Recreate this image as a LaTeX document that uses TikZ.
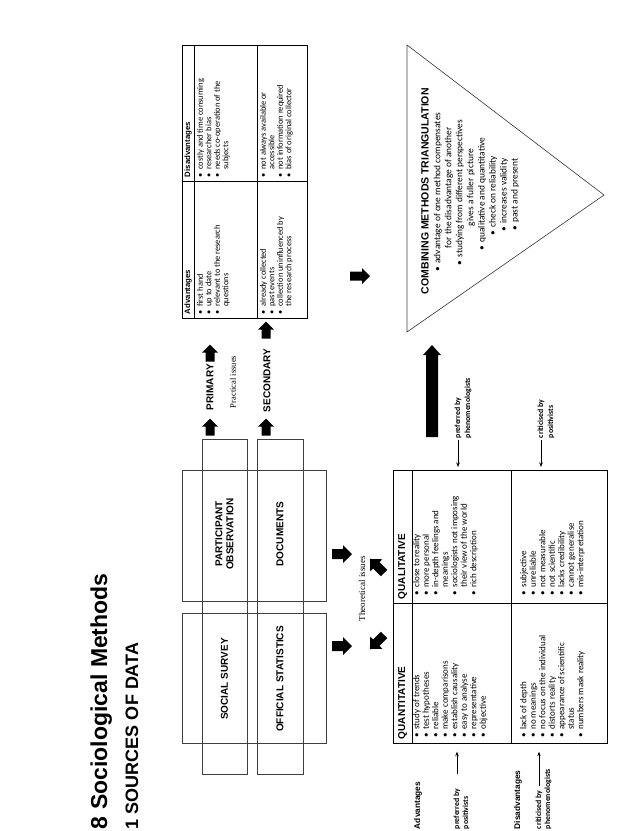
\documentclass[tikz,border=0pt]{standalone}
\usepackage{fontspec}
\setmainfont{Liberation Serif}
\setsansfont{Liberation Sans}
\newfontfamily\listfont{Carlito}
\usetikzlibrary{arrows.meta}
\newcommand\bu{\makebox[7.5pt][l]{\textbullet}}
\newcommand\ind{\hspace*{7.5pt}}
% block arrow: x y angle length headwidth shaftwidth headlength
\newcommand\barrow[7]{\fill[black,shift={(#1,#2)},rotate=#3]
  (-#4/2,-#6/2) -- (#4/2-#7,-#6/2) -- (#4/2-#7,-#5/2) -- (#4/2,0) --
  (#4/2-#7,#5/2) -- (#4/2-#7,#6/2) -- (-#4/2,#6/2) -- cycle;}
\tikzset{
  rot/.style={rotate=90, inner sep=0pt, outer sep=0pt},
  boxln/.style={draw=black!75, line width=0.65pt},
  tabln/.style={draw=black, line width=0.7pt},
  frame/.style={rectangle, inner sep=0pt, anchor=north west},
  methtxt/.style={rot, align=center, font=\sffamily\bfseries\fontsize{10}{11}\selectfont},
  pstxt/.style={rot, anchor=west, font=\sffamily\bfseries\fontsize{10}{12}\selectfont},
  serifnote/.style={rot, anchor=west, font=\rmfamily\fontsize{8.5}{10}\selectfont},
  hdrsmall/.style={rot, anchor=west, font=\sffamily\bfseries\fontsize{7.8}{9}\selectfont},
  hdrbig/.style={rot, anchor=west, font=\sffamily\bfseries\fontsize{10}{12}\selectfont},
  celltop/.style={rot, anchor=north west, align=left, font=\listfont\fontsize{8.4}{8.5}\selectfont},
  cellq/.style={rot, anchor=north west, align=left, font=\listfont\fontsize{9}{9.5}\selectfont},
  triline/.style={rot, anchor=west, font=\listfont\fontsize{9.4}{10}\selectfont},
  tritit/.style={rot, anchor=west, font=\sffamily\bfseries\fontsize{10.5}{12}\selectfont},
  lbl/.style={rot, anchor=west, font=\listfont\bfseries\fontsize{7.8}{9}\selectfont},
  lblsans/.style={rot, anchor=west, font=\sffamily\bfseries\fontsize{8.3}{10}\selectfont},
  ptr/.style={line width=0.6pt, -{Stealth[length=4.5pt,width=3.5pt]}},
}
\begin{document}
\begin{tikzpicture}[x=1pt,y=-1pt]
\useasboundingbox (0,0) rectangle (638,831);

% titles
\node[rot, anchor=base west, font=\sffamily\bfseries\fontsize{23}{28}\selectfont] (title) at (107,829) {8 Sociological Methods};
\node[rot, anchor=base west, font=\sffamily\bfseries\fontsize{18}{22}\selectfont] (sub) at (138,829) {1 SOURCES OF DATA};

% method strips and boxes
\node[frame, boxln, minimum width=45pt, minimum height=335pt] (stripA) at (202,439) {};
\node[frame, boxln, minimum width=46pt, minimum height=335pt] (stripB) at (257,439) {};
\node[frame, boxln, minimum width=144pt, minimum height=131pt] (boxQ) at (182,470) {};
\node[frame, boxln, minimum width=144pt, minimum height=130pt] (boxP) at (182,613) {};

\node[methtxt] (ss) at (224.5,679) {SOCIAL SURVEY};
\node[methtxt] (os) at (280,679) {OFFICIAL STATISTICS};
\node[methtxt] (po) at (224.5,534) {PARTICIPANT\\OBSERVATION};
\node[methtxt] (doc) at (280,534) {DOCUMENTS};

% arrows to primary / secondary
\barrow{210}{427}{90}{17}{16}{9}{8}
\barrow{266}{427}{90}{17}{16}{9}{8}
\node[pstxt] (prim) at (210,410) {PRIMARY};
\node[serifnote] (prac) at (233,408) {Practical issues};
\node[pstxt] (sec) at (267,412) {SECONDARY};
\barrow{210}{353}{90}{17}{16}{9}{8}
\barrow{266}{330}{90}{17}{16}{9}{8}

% sources table
\node[frame, tabln, minimum width=125pt, minimum height=273pt] (st) at (182,45) {};
\draw[tabln] (194,45) -- (194,318);
\draw[tabln] (257,45) -- (257,318);
\draw[tabln] (182,181) -- (307,181);
\node[hdrsmall] (sadv) at (188,314) {Advantages};
\node[hdrsmall] (sdis) at (188,177) {Disadvantages};
\node[celltop] (pa) at (197,314) {\bu first hand\\ \bu up to date\\ \bu relevant to the research\\ \ind questions};
\node[celltop] (pd) at (197,177) {\bu costly and time consuming\\ \bu researcher bias\\ \bu needs co-operation of the\\ \ind subjects};
\node[celltop] (sa) at (260,314) {\bu already collected\\ \bu past events\\ \bu collection uninfluenced by\\ \ind the research process};
\node[celltop] (sd) at (260,177) {\bu not always available or\\ \ind accessible\\ \bu not information required\\ \bu bias of original collector};

% arrow to triangle
\barrow{360}{276}{0}{20}{16}{9}{8}

% triangle
\draw[boxln] (407,45) -- (604,195) -- (407,332) -- cycle;
\node[tritit] (tt) at (425,294) {COMBINING METHODS TRIANGULATION};
\node[triline] (t1) at (438,271) {\bu advantage of one method compensates};
\node[triline] (t2) at (449,248) {for the disadvantage of another};
\node[triline] (t3) at (460,265) {\bu studying from different perspectives};
\node[triline] (t4) at (471,226) {gives a fuller picture};
\node[triline] (t5) at (482,250) {\bu qualitative and quantitative};
\node[triline] (t6) at (493,235) {\bu check on reliability};
\node[triline] (t7) at (504,231) {\bu increases validity};
\node[triline] (t8) at (515,230) {\bu past and present};

% big bar arrow
\barrow{432}{391}{90}{92}{18}{12}{10}

% theoretical issues
\barrow{342}{554}{0}{20}{18}{10}{9}
\barrow{342}{646}{0}{20}{18}{10}{9}
\barrow{377}{566}{135}{20}{17}{9}{9}
\barrow{377}{642}{225}{20}{17}{9}{9}
\node[serifnote, font=\rmfamily\fontsize{9}{10}\selectfont] (theo) at (362,621) {Theoretical issues};

% quantitative / qualitative table
\node[frame, tabln, minimum width=214pt, minimum height=273pt] (qq) at (393,470) {};
\draw[tabln] (412,470) -- (412,743);
\draw[tabln] (511,470) -- (511,743);
\draw[tabln] (393,603) -- (607,603);
\node[hdrbig] (quant) at (402.5,739) {QUANTITATIVE};
\node[hdrbig] (qual) at (402.5,599) {QUALITATIVE};
\node[cellq] (qna) at (413,737) {\bu study of trends\\ \bu test hypotheses\\ \bu reliable\\ \bu make comparisons\\ \bu establish causality\\ \bu easy to analyse\\ \bu representative\\ \bu objective};
\node[cellq] (qla) at (413,595) {\bu close to reality\\ \bu more personal\\ \bu in-depth feelings and\\ \ind meanings\\ \bu sociologists not imposing\\ \ind their view of the world\\ \bu rich description};
\node[cellq] (qnd) at (520,737) {\bu lack of depth\\ \bu no meanings\\ \bu no focus on the individual\\ \bu distorts reality\\ \bu appearance of scientific\\ \ind status\\ \bu numbers mask reality};
\node[cellq] (qld) at (520,595) {\bu subjective\\ \bu unreliable\\ \bu not measurable\\ \bu not scientific\\ \bu lacks credibility\\ \bu cannot generalise\\ \bu mis-interpretation};

% labels right of table (image top)
\node[lbl] (pp1) at (458,438) {preferred by};
\node[lbl] (pp2) at (468,438) {phenomenologists};
\draw[ptr, shorten <=2pt, shorten >=3pt] (pp1.west) -- (pp1.west |- qq.north);
\node[lbl] (cb1) at (541,438) {criticised by};
\node[lbl] (cb2) at (551,438) {positivists};
\draw[ptr, shorten <=2pt, shorten >=3pt] (cb1.west) -- (cb1.west |- qq.north);

% labels left of table (image bottom)
\node[lblsans] (advl) at (418,829) {Advantages};
\node[lbl] (pb1) at (457,829) {preferred by};
\node[lbl] (pb2) at (466,829) {positivists};
\draw[ptr, shorten <=15pt, shorten >=8pt] (pb1.east) -- (pb1.east |- qq.south);
\node[lblsans] (disl) at (518,829) {Disadvantages};
\node[lbl] (cp1) at (539,829) {criticised by};
\node[lbl] (cp2) at (548,829) {phenomenologists};
\draw[ptr, shorten <=4pt, shorten >=8pt] (cp1.east) -- (cp1.east |- qq.south);
\end{tikzpicture}
\end{document}
